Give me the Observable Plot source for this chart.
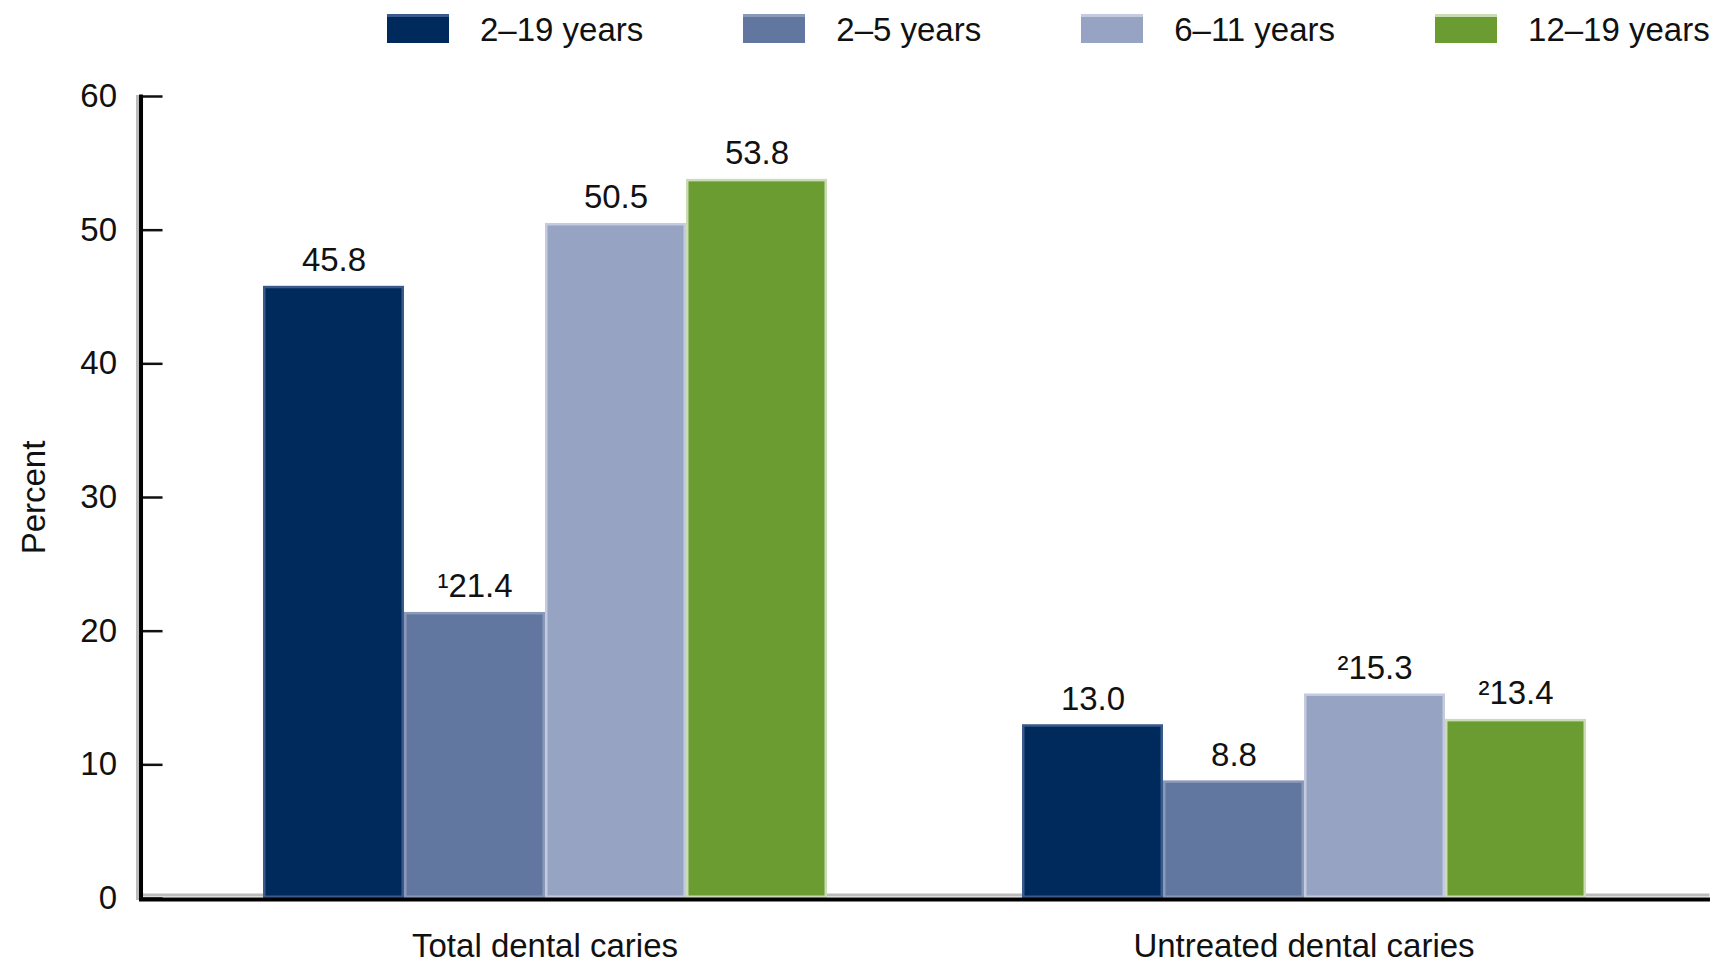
<!DOCTYPE html>
<html>
<head>
<meta charset="utf-8">
<script src="https://cdn.jsdelivr.net/npm/d3@7"></script>
<script src="https://cdn.jsdelivr.net/npm/@observablehq/plot@0.6"></script>
<style>
  html, body { margin: 0; padding: 0; background: #fff; }
  body { width: 1727px; height: 967px; overflow: hidden; font-family: "Liberation Sans", Arial, sans-serif; }
  #legend { height: 60px; display: flex; align-items: center; gap: 100px; padding-left: 387px; box-sizing: border-box; font-size: 33px; color: #111; }
  #legend .item { display: flex; align-items: center; }
  #legend .swatch { width: 62px; height: 26px; border-top: 3px solid; margin-right: 31px; margin-top: -4px; }
  #chart svg { display: block; }
</style>
</head>
<body>
<div id="legend"></div>
<div id="chart"></div>
<script>
// Dental caries prevalence among youth, by age group
const categories = ["Total dental caries", "Untreated dental caries"];
const ageGroups = ["2–19 years", "2–5 years", "6–11 years", "12–19 years"];
const totalCaries = [45.8, 21.4, 50.5, 53.8];
const untreatedCaries = [13.0, 8.8, 15.3, 13.4];
// footnote markers shown before some values
const totalNotes = ["", "¹", "", ""];
const untreatedNotes = ["", "", "²", "²"];
const yTicks = [0, 10, 20, 30, 40, 50, 60];
const groupColors = ["#002a5c", "#62779f", "#96a3c2", "#6a9c31"];
const edgeColors = ["#3a5a8c", "#8b99b9", "#c5cbde", "#cadcb4"];

const values = [totalCaries, untreatedCaries];
const notes = [totalNotes, untreatedNotes];
const rows = categories.flatMap((category, i) =>
  ageGroups.map((group, j) => ({
    category,
    group,
    value: values[i][j],
    note: notes[i][j],
    fill: groupColors[j],
    edge: edgeColors[j]
  }))
);

// legend
const legend = d3.select("#legend");
ageGroups.forEach((g, j) => {
  const item = legend.append("div").attr("class", "item");
  item.append("div").attr("class", "swatch")
    .style("background", groupColors[j])
    .style("border-top-color", edgeColors[j]);
  item.append("span").text(g);
});

const width = 1727, marginLeft = 140, marginRight = 20;
const fxPaddingInner = 0.256, fxPaddingOuter = 0.16;
// distance from the frame's left edge to the first facet band
const fxStep = (width - marginLeft - marginRight) / (categories.length - fxPaddingInner + 2 * fxPaddingOuter);
const axisShift = fxStep * fxPaddingOuter;

const chart = Plot.plot({
  width,
  height: 907,
  marginTop: 36,
  marginBottom: 69,
  marginLeft,
  marginRight,
  style: { fontFamily: "'Liberation Sans', Arial, sans-serif", fontSize: "33px", color: "#111", background: "#fff" },
  fx: { domain: categories, paddingInner: fxPaddingInner, paddingOuter: fxPaddingOuter, label: null },
  x: { domain: ageGroups, padding: 0, axis: null },
  y: { domain: [0, 60], label: "Percent", axis: null },
  color: { type: "identity" },
  marks: [
    Plot.frame({ anchor: "bottom", facet: "super", stroke: "#bbb", strokeWidth: 3, dy: -3.5, insetLeft: -axisShift, insetRight: -axisShift }),
    Plot.barY(rows, {
      fx: "category", x: "group", y: "value",
      fill: "fill", stroke: "edge", strokeWidth: 2.5, inset: 1.25
    }),
    Plot.text(rows, {
      fx: "category", x: "group", y: "value",
      text: d => d.note + d.value.toFixed(1),
      lineAnchor: "bottom", dy: -15, fill: "#111"
    }),
    Plot.axisY({
      ticks: yTicks, tickSize: -22, tickPadding: 46, strokeWidth: 2.5, dx: -axisShift,
      stroke: "#111", label: "Percent", labelAnchor: "center", labelOffset: 119 + axisShift, labelArrow: "none"
    }),
    Plot.axisFx({ anchor: "bottom", tickSize: 0, tickPadding: 35, label: null }),
    Plot.frame({ anchor: "left", facet: "super", stroke: "#bbb", strokeWidth: 3, dx: -3.5, insetLeft: -axisShift }),
    Plot.frame({ anchor: "left", facet: "super", stroke: "#000", strokeWidth: 4, insetLeft: -axisShift }),
    Plot.frame({ anchor: "bottom", facet: "super", stroke: "#000", strokeWidth: 4, dy: 1, insetLeft: -axisShift, insetRight: -axisShift })
  ]
});
document.getElementById("chart").append(chart);
</script>
</body>
</html>
